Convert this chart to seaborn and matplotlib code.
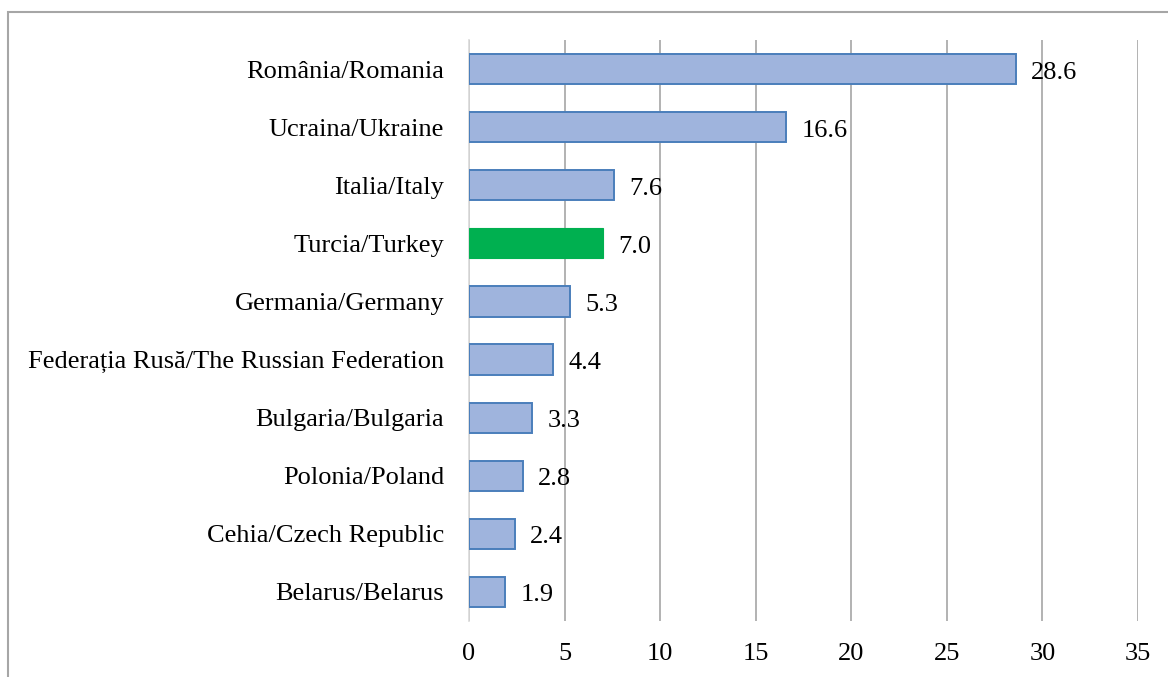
import pandas as pd
import matplotlib.pyplot as plt
import matplotlib.patches as patches
import seaborn as sns

# Chart data
countries = ['România/Romania', 'Ucraina/Ukraine', 'Italia/Italy', 'Turcia/Turkey',
             'Germania/Germany', 'Federația Rusă/The Russian Federation',
             'Bulgaria/Bulgaria', 'Polonia/Poland', 'Cehia/Czech Republic',
             'Belarus/Belarus']
shares = [28.6, 16.6, 7.6, 7.0, 5.3, 4.4, 3.3, 2.8, 2.4, 1.9]
highlight = 'Turcia/Turkey'

df = pd.DataFrame({'Country': countries, 'Share': shares})

sns.set_style('white')
plt.rcParams['font.family'] = ['Liberation Serif', 'DejaVu Serif']

fig = plt.figure(figsize=(11.68, 6.77), dpi=100)
ax = fig.add_axes([469 / 1168, 1 - 621 / 677, (1138 - 469) / 1168, (621 - 40) / 677])

colors = ['#00b050' if c == highlight else '#9fb4dd' for c in countries]
sns.barplot(data=df, x='Share', y='Country', hue='Country', palette=colors,
            saturation=1, legend=False, width=0.52, ax=ax, zorder=3)

for bar, c in zip(ax.patches, countries):
    bar.set_edgecolor('#00b050' if c == highlight else '#4a7ebb')
    bar.set_linewidth(1.4 if c != highlight else 0.8)

fs = 19
for cont in ax.containers:
    for ann in ax.bar_label(cont, fmt='%.1f', padding=11, fontsize=fs,
                            color='black', zorder=5):
        ann.xyann = (11, -2.5)

ax.set_xlim(0, 35)
ax.set_ylim(9.5, -0.5)
ax.set_xticks(range(0, 36, 5))
ax.xaxis.grid(True, color='#a6a6a6', lw=1.2, zorder=0)
ax.yaxis.grid(False)
for s in ['top', 'right', 'bottom']:
    ax.spines[s].set_visible(False)
ax.spines['left'].set_color('#d9d9d9')
ax.spines['left'].set_linewidth(1.2)
ax.tick_params(axis='both', length=0, labelsize=fs, colors='black')
ax.tick_params(axis='y', pad=18)
ax.tick_params(axis='x', pad=16)
ax.set_xlabel('')
ax.set_ylabel('')

# outer chart frame (cut off at right and bottom)
fig.patches.append(patches.Rectangle((8 / 1168, -0.05), 1.1, 1 - 12 / 677 + 0.05,
                                     transform=fig.transFigure, fill=False,
                                     edgecolor='#a6a6a6', lw=1.5))

fig.savefig('out.png', dpi=100)
